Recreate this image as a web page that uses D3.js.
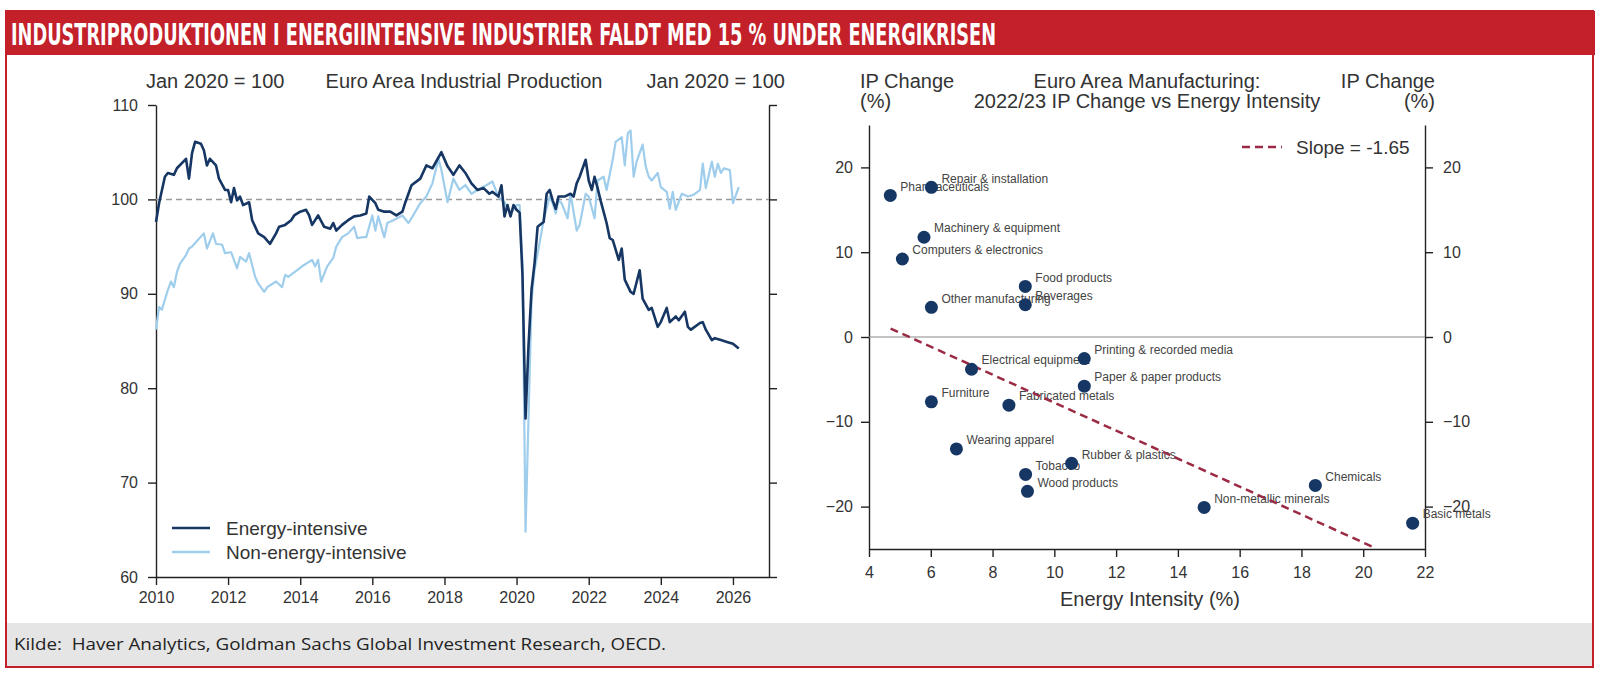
<!DOCTYPE html>
<html>
<head>
<meta charset="utf-8">
<script src="https://cdn.jsdelivr.net/npm/d3@7"></script>
<style>
	body { margin: 0; background: #fff; }
	svg { display: block; }
	.axis path, .axis line { stroke: #222; stroke-width: 1.4; }
	.axis text { fill: #333; font-family: "Liberation Sans", Arial, sans-serif; font-size: 16px; }
</style>
</head>
<body>
<div id="chart"></div>
<script>
/* global d3 */
// Euro area industrial production, Jan 2020 = 100 (monthly)
const energyIntensive = [
	["2010-01", 97.6], ["2010-02", 99.6], ["2010-04", 102.4], ["2010-05", 102.8], ["2010-07", 102.6], ["2010-08", 103.3],
	["2010-11", 104.3], ["2010-12", 102.2], ["2011-01", 104.9], ["2011-02", 106.1], ["2011-04", 105.9], ["2011-05", 105.2],
	["2011-06", 103.6], ["2011-07", 104.3], ["2011-09", 103.6], ["2011-10", 102.2], ["2011-12", 101.0], ["2012-01", 101.0],
	["2012-02", 99.7], ["2012-03", 101.2], ["2012-04", 99.9], ["2012-05", 100.3], ["2012-06", 99.4], ["2012-08", 99.7],
	["2012-09", 97.8], ["2012-11", 96.4], ["2013-01", 96.0], ["2013-03", 95.3], ["2013-05", 96.4], ["2013-06", 97.1],
	["2013-08", 97.3], ["2013-10", 97.8], ["2013-11", 98.3], ["2014-01", 98.7], ["2014-03", 98.9], ["2014-04", 98.3],
	["2014-05", 97.3], ["2014-07", 98.3], ["2014-09", 97.1], ["2014-11", 96.9], ["2014-12", 97.5], ["2015-01", 96.7],
	["2015-03", 97.3], ["2015-05", 97.8], ["2015-07", 98.2], ["2015-09", 98.3], ["2015-11", 98.5], ["2015-12", 100.3],
	["2016-02", 99.6], ["2016-03", 98.9], ["2016-05", 98.7], ["2016-07", 98.7], ["2016-09", 98.3], ["2016-11", 98.7],
	["2016-12", 99.7], ["2017-02", 101.5], ["2017-05", 102.2], ["2017-07", 103.6], ["2017-09", 103.3], ["2017-12", 105.0],
	["2018-02", 103.5], ["2018-04", 102.6], ["2018-06", 103.6], ["2018-08", 102.8], ["2018-10", 101.7], ["2018-12", 101.0],
	["2019-02", 101.2], ["2019-04", 100.6], ["2019-05", 100.8], ["2019-07", 100.3], ["2019-08", 101.5], ["2019-09", 98.2],
	["2019-10", 99.4], ["2019-11", 98.2], ["2019-12", 99.4], ["2020-01", 98.9], ["2020-02", 98.6], ["2020-03", 92.0],
	["2020-04", 76.8], ["2020-05", 84.5], ["2020-06", 90.5], ["2020-07", 93.2], ["2020-08", 97.1], ["2020-10", 97.6],
	["2020-11", 100.6], ["2020-12", 101.0], ["2021-01", 99.9], ["2021-02", 99.0], ["2021-03", 100.3], ["2021-05", 100.3],
	["2021-07", 100.6], ["2021-08", 100.3], ["2021-09", 101.7], ["2021-10", 102.4], ["2021-12", 104.2], ["2022-01", 102.0],
	["2022-02", 101.0], ["2022-03", 102.4], ["2022-04", 101.2], ["2022-05", 99.9], ["2022-07", 97.5], ["2022-08", 95.9],
	["2022-09", 95.7], ["2022-11", 93.6], ["2022-12", 94.8], ["2023-01", 91.5], ["2023-03", 90.2], ["2023-04", 90.0],
	["2023-06", 92.5], ["2023-07", 89.5], ["2023-09", 88.3], ["2023-10", 88.5], ["2023-12", 86.5], ["2024-01", 87.0],
	["2024-03", 88.5], ["2024-04", 87.0], ["2024-06", 87.6], ["2024-07", 87.2], ["2024-09", 88.1], ["2024-10", 86.5],
	["2024-11", 86.2], ["2025-02", 86.9], ["2025-03", 87.0], ["2025-04", 86.2], ["2025-06", 85.1], ["2025-07", 85.3],
	["2025-09", 85.1], ["2025-11", 84.9], ["2026-01", 84.7], ["2026-03", 84.2]
];
const nonEnergyIntensive = [
	["2010-01", 86.2], ["2010-02", 88.6], ["2010-03", 88.3], ["2010-05", 90.4], ["2010-06", 91.3], ["2010-07", 90.7],
	["2010-08", 92.3], ["2010-09", 93.2], ["2010-11", 94.1], ["2010-12", 94.8], ["2011-01", 95.0], ["2011-03", 95.7],
	["2011-05", 96.4], ["2011-06", 94.8], ["2011-08", 96.4], ["2011-09", 95.3], ["2011-11", 95.2], ["2011-12", 94.3],
	["2012-02", 94.4], ["2012-04", 92.7], ["2012-05", 93.9], ["2012-07", 93.4], ["2012-08", 94.3], ["2012-10", 91.8],
	["2012-11", 91.1], ["2013-01", 90.2], ["2013-02", 90.7], ["2013-05", 91.3], ["2013-07", 90.7], ["2013-08", 92.0],
	["2013-09", 91.8], ["2013-12", 92.5], ["2014-02", 93.0], ["2014-05", 93.6], ["2014-06", 92.9], ["2014-07", 93.6],
	["2014-08", 91.3], ["2014-10", 92.9], ["2014-12", 93.8], ["2015-01", 95.0], ["2015-03", 96.0], ["2015-05", 96.4],
	["2015-07", 97.1], ["2015-08", 95.9], ["2015-10", 96.0], ["2015-11", 96.0], ["2016-01", 98.3], ["2016-02", 96.7],
	["2016-03", 98.2], ["2016-05", 96.0], ["2016-06", 97.5], ["2016-08", 97.8], ["2016-11", 98.3], ["2017-01", 97.5],
	["2017-03", 98.5], ["2017-05", 99.6], ["2017-07", 100.3], ["2017-09", 101.7], ["2017-11", 104.3], ["2017-12", 103.1],
	["2018-02", 99.7], ["2018-04", 102.2], ["2018-06", 101.0], ["2018-08", 101.5], ["2018-10", 100.6], ["2018-12", 101.0],
	["2019-03", 101.5], ["2019-05", 101.9], ["2019-07", 100.3], ["2019-09", 99.7], ["2019-11", 98.5], ["2020-01", 99.4],
	["2020-02", 99.4], ["2020-03", 93.2], ["2020-04", 64.8], ["2020-06", 89.3], ["2020-07", 92.5], ["2020-09", 96.0],
	["2020-10", 97.8], ["2020-12", 100.3], ["2021-01", 99.6], ["2021-02", 98.5], ["2021-03", 99.9], ["2021-04", 99.6],
	["2021-06", 98.0], ["2021-07", 100.6], ["2021-09", 96.7], ["2021-10", 97.3], ["2021-12", 100.6], ["2022-01", 100.3],
	["2022-03", 98.0], ["2022-04", 102.0], ["2022-06", 102.4], ["2022-07", 101.0], ["2022-09", 104.2], ["2022-10", 106.1],
	["2022-12", 106.6], ["2023-01", 103.6], ["2023-02", 107.0], ["2023-03", 107.3], ["2023-04", 102.4], ["2023-05", 104.0],
	["2023-07", 105.8], ["2023-08", 103.5], ["2023-09", 102.4], ["2023-10", 102.0], ["2023-12", 102.8], ["2024-01", 101.3],
	["2024-03", 100.8], ["2024-04", 99.0], ["2024-05", 100.8], ["2024-06", 98.9], ["2024-08", 100.6], ["2024-10", 100.3],
	["2024-12", 100.5], ["2025-02", 101.0], ["2025-03", 103.8], ["2025-04", 101.2], ["2025-06", 104.0], ["2025-07", 102.4],
	["2025-08", 103.8], ["2025-09", 102.8], ["2025-10", 103.3], ["2025-12", 103.1], ["2026-01", 99.6], ["2026-03", 101.3]
];
const seriesNames = ["Energy-intensive", "Non-energy-intensive"];
const ipYTicks = [60, 70, 80, 90, 100, 110];
const ipYearTicks = [2010, 2012, 2014, 2016, 2018, 2020, 2022, 2024, 2026];

// 2022/23 IP change vs energy intensity by sector
const sectors = ["Pharmaceuticals", "Repair & installation", "Machinery & equipment", "Computers & electronics",
	"Food products", "Beverages", "Other manufacturing", "Electrical equipment", "Printing & recorded media",
	"Paper & paper products", "Furniture", "Fabricated metals", "Wearing apparel", "Rubber & plastics", "Tobacco",
	"Wood products", "Non-metallic minerals", "Chemicals", "Basic metals"];
const energyIntensity = [4.69, 6.02, 5.78, 5.08, 9.06, 9.06, 6.02, 7.32, 10.97, 10.97, 6.02, 8.53, 6.83, 10.56, 9.07,
	9.13, 14.85, 18.45, 21.6];
const ipChange = [16.7, 17.65, 11.76, 9.2, 5.96, 3.8, 3.5, -3.8, -2.54, -5.8, -7.65, -8.04, -13.2, -14.9, -16.2,
	-18.2, -20.1, -17.5, -21.95];
const slopeLine = [[4.7, 1.0], [20.4, -24.9]];
const slopeLabel = "Slope = -1.65";
const scatterXTicks = [4, 6, 8, 10, 12, 14, 16, 18, 20, 22];
const scatterYTicks = [-20, -10, 0, 10, 20];

const W = 1603, H = 676;
const red = "#c3202a";
const navy = "#163663";
const sky = "#9fcdec";
const font = '"Liberation Sans", Arial, sans-serif';

const svg = d3.select("#chart").append("svg").attr("width", W).attr("height", H);

/* Frame, banner, footer */
svg.append("rect").attr("x", 6).attr("y", 11).attr("width", 1587).attr("height", 656)
	.attr("fill", "#fff").attr("stroke", red).attr("stroke-width", 2);
svg.append("rect").attr("x", 6).attr("y", 11).attr("width", 1589).attr("height", 44).attr("fill", red);
svg.append("text").attr("x", 11).attr("y", 45)
	.attr("font-family", '"Liberation Sans Narrow", "DejaVu Sans Condensed", "Roboto Condensed", sans-serif')
	.attr("font-weight", "bold").attr("font-size", 31).attr("fill", "#fff")
	.attr("textLength", 985).attr("lengthAdjust", "spacingAndGlyphs")
	.text("INDUSTRIPRODUKTIONEN I ENERGIINTENSIVE INDUSTRIER FALDT MED 15 % UNDER ENERGIKRISEN");
svg.append("rect").attr("x", 7).attr("y", 623).attr("width", 1585).attr("height", 43).attr("fill", "#e5e5e5");
svg.append("text").attr("x", 14).attr("y", 650).style("white-space", "pre")
	.attr("font-family", '"Open Sans", "Noto Sans", sans-serif').attr("font-size", 16).attr("fill", "#222")
	.attr("textLength", 652).attr("lengthAdjust", "spacingAndGlyphs")
	.text("Kilde:\u00a0 Haver Analytics, Goldman Sachs Global Investment Research, OECD.");

function title(x, y, anchor, txt, size) {
	return svg.append("text").attr("x", x).attr("y", y).attr("text-anchor", anchor)
		.attr("font-family", font).attr("font-size", size || 20).attr("fill", "#333").text(txt);
}

/* Left panel: industrial production lines */
const parseMonth = d3.timeParse("%Y-%m");
const xTime = d3.scaleTime().domain([new Date(2010, 0, 1), new Date(2027, 0, 1)]).range([156, 769]);
const yIP = d3.scaleLinear().domain([60, 110]).range([577, 105]);

title(146, 88, "start", "Jan 2020 = 100");
title(464, 88, "middle", "Euro Area Industrial Production");
title(785, 88, "end", "Jan 2020 = 100");

const left = svg.append("g");
left.append("g").attr("class", "axis").attr("transform", "translate(156,0)")
	.call(d3.axisLeft(yIP).tickValues(ipYTicks).tickSize(8).tickPadding(10).tickSizeOuter(0));
left.append("g").attr("class", "axis").attr("transform", "translate(769,0)")
	.call(d3.axisRight(yIP).tickValues(ipYTicks).tickSize(8).tickFormat("").tickSizeOuter(0));
left.append("g").attr("class", "axis").attr("transform", "translate(0,577)")
	.call(d3.axisBottom(xTime).tickValues(ipYearTicks.map(y => new Date(y, 0, 1)))
		.tickFormat(d3.timeFormat("%Y")).tickSize(8).tickPadding(7).tickSizeOuter(0));

left.append("line").attr("x1", xTime.range()[0]).attr("x2", xTime.range()[1])
	.attr("y1", yIP(100)).attr("y2", yIP(100))
	.attr("stroke", "#9a9a9a").attr("stroke-width", 1.5).attr("stroke-dasharray", "6,4");

const ipLine = d3.line().x(d => xTime(parseMonth(d[0]))).y(d => yIP(d[1]));
left.append("path").datum(nonEnergyIntensive).attr("d", ipLine)
	.attr("fill", "none").attr("stroke", sky).attr("stroke-width", 2.2).attr("stroke-linejoin", "round");
left.append("path").datum(energyIntensive).attr("d", ipLine)
	.attr("fill", "none").attr("stroke", navy).attr("stroke-width", 2.6).attr("stroke-linejoin", "round");

// legend
const leg = left.selectAll(".leg").data(seriesNames).enter().append("g")
	.attr("transform", (d, i) => `translate(172,${528 + i * 24})`);
leg.append("line").attr("x2", 38).attr("stroke", (d, i) => i ? sky : navy).attr("stroke-width", 2.6);
leg.append("text").attr("x", 54).attr("dy", "0.35em").attr("font-family", font).attr("font-size", 19)
	.attr("fill", "#333").text(d => d);

/* Right panel: scatter */
const xEI = d3.scaleLinear().domain([4, 22]).range([869, 1425]);
const yChg = d3.scaleLinear().domain([-25, 25]).range([549, 125]);

title(860, 88, "start", "IP Change");
title(860, 108, "start", "(%)");
title(1147, 88, "middle", "Euro Area Manufacturing:");
title(1147, 108, "middle", "2022/23 IP Change vs Energy Intensity");
title(1435, 88, "end", "IP Change");
title(1435, 108, "end", "(%)");

const right = svg.append("g");
right.append("g").attr("class", "axis").attr("transform", "translate(869,0)")
	.call(d3.axisLeft(yChg).tickValues(scatterYTicks).tickSize(8).tickPadding(8).tickSizeOuter(0));
right.append("g").attr("class", "axis").attr("transform", "translate(1425,0)")
	.call(d3.axisRight(yChg).tickValues(scatterYTicks).tickSize(8).tickPadding(10).tickSizeOuter(0));
right.append("g").attr("class", "axis").attr("transform", "translate(0,549)")
	.call(d3.axisBottom(xEI).tickValues(scatterXTicks).tickSize(8).tickPadding(10).tickSizeOuter(0));
title(1150, 606, "middle", "Energy Intensity (%)");

right.append("line").attr("x1", xEI(4)).attr("x2", xEI(22)).attr("y1", yChg(0)).attr("y2", yChg(0))
	.attr("stroke", "#8a8a8a").attr("stroke-width", 1.2);

// sector labels sit under the trend line and dots, as in the source
right.selectAll(".lbl").data(sectors).enter().append("text").attr("class", "lbl")
	.attr("x", (d, i) => xEI(energyIntensity[i]) + 10).attr("y", (d, i) => yChg(ipChange[i]) - 9)
	.attr("dy", "0.35em").attr("font-family", font).attr("font-size", 12).attr("fill", "#444").text(d => d);

right.append("path").datum(slopeLine).attr("d", d3.line().x(d => xEI(d[0])).y(d => yChg(d[1])))
	.attr("stroke", "#9b2b45").attr("stroke-width", 2.5).attr("stroke-dasharray", "8,5").attr("fill", "none");

right.selectAll(".dot").data(sectors).enter().append("circle").attr("class", "dot")
	.attr("cx", (d, i) => xEI(energyIntensity[i])).attr("cy", (d, i) => yChg(ipChange[i]))
	.attr("r", 6.5).attr("fill", navy);

// slope legend
right.append("line").attr("x1", 1242).attr("x2", 1282).attr("y1", 147).attr("y2", 147)
	.attr("stroke", "#9b2b45").attr("stroke-width", 2.5).attr("stroke-dasharray", "8,5");
right.append("text").attr("x", 1296).attr("y", 147).attr("dy", "0.35em").attr("font-family", font)
	.attr("font-size", 19).attr("fill", "#333").text(slopeLabel);
</script>
</body>
</html>
